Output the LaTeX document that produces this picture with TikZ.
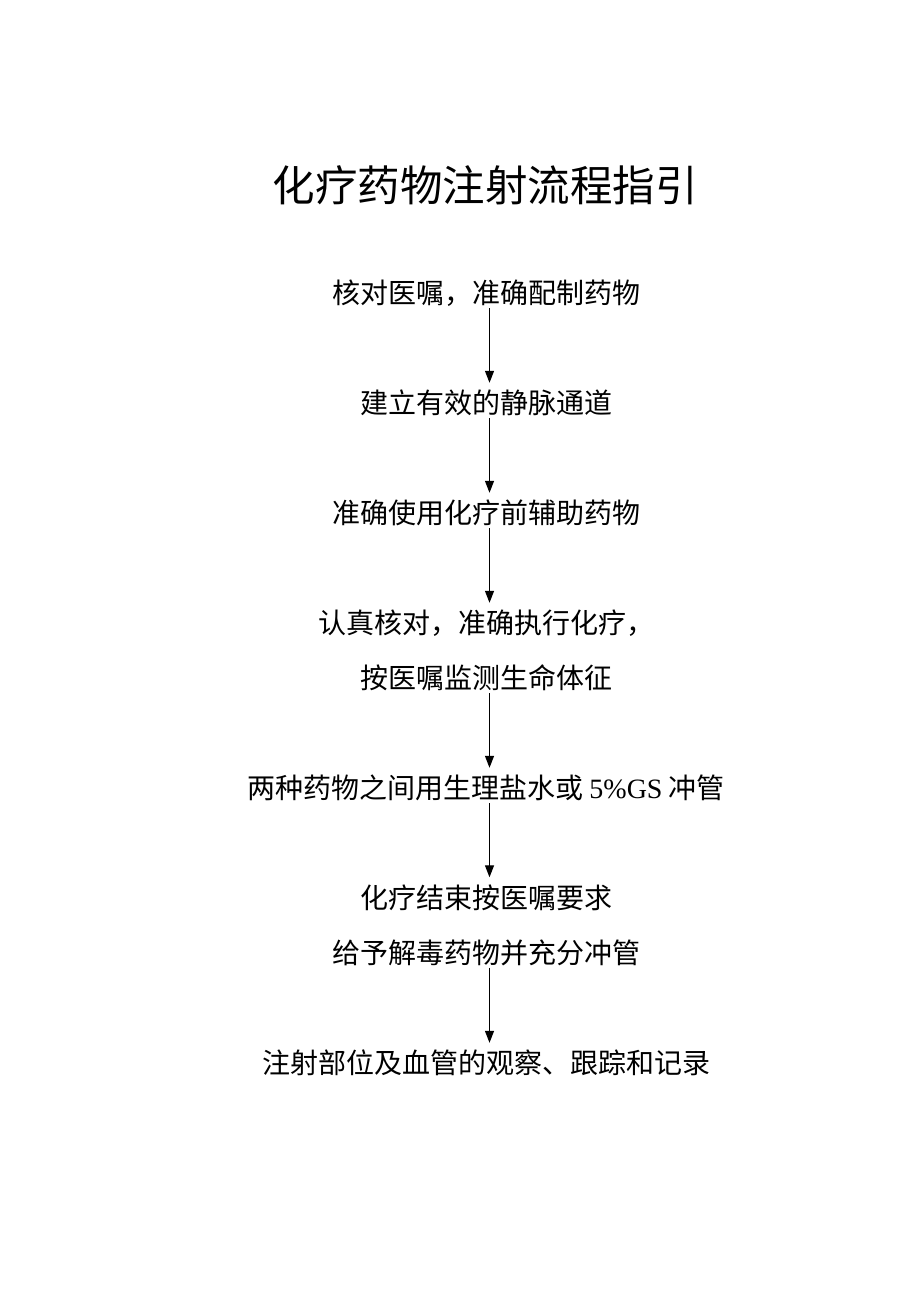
\documentclass[tikz,border=0pt]{standalone}
\usepackage{fontspec}
\newfontfamily\cjk{Noto Sans CJK SC}
\newfontfamily\lat{Liberation Serif}
\usetikzlibrary{arrows.meta}
\newcommand\cst{\vrule height 24.6pt depth 3.4pt width 0pt}
\newcommand\tst{\vrule height 37.4pt depth 5.1pt width 0pt}
\tikzset{
  stepbox/.style={inner sep=0pt, align=center,
    font=\cjk\fontsize{28pt}{55pt}\selectfont},
  titlebox/.style={inner sep=0pt,
    font=\cjk\fontsize{42.5pt}{45pt}\selectfont},
  flow/.style={line width=1.2pt, -{Triangle[length=12pt,width=9pt]}, shorten >=6pt, shorten <=1pt}
}
\begin{document}
\begin{tikzpicture}[x=1pt,y=1pt]
\useasboundingbox (0,0) rectangle (920,-1300);
\node[titlebox] (title) at (485,-185) {\tst 化疗药物注射流程指引};
\node[stepbox] (s1) at (486,-293) {\cst 核对医嘱，准确配制药物};
\node[stepbox] (s2) at (486,-403) {\cst 建立有效的静脉通道};
\node[stepbox] (s3) at (486,-513) {\cst 准确使用化疗前辅助药物};
\node[stepbox] (s4) at (486,-650.5) {\cst 认真核对，准确执行化疗，\\\cst 按医嘱监测生命体征};
\node[stepbox] (s5) at (486,-788) {\cst 两种药物之间用生理盐水或 {\lat 5\%GS} 冲管};
\node[stepbox] (s6) at (486,-925) {\cst 化疗结束按医嘱要求\\\cst 给予解毒药物并充分冲管};
\node[stepbox] (s7) at (486,-1063) {\cst 注射部位及血管的观察、跟踪和记录};
\foreach \a/\b in {s1/s2,s2/s3,s3/s4,s4/s5,s5/s6,s6/s7}
  \draw[flow] ([xshift=3.5pt]\a.south) -- ([xshift=3.5pt]\b.north);
\end{tikzpicture}
\end{document}
